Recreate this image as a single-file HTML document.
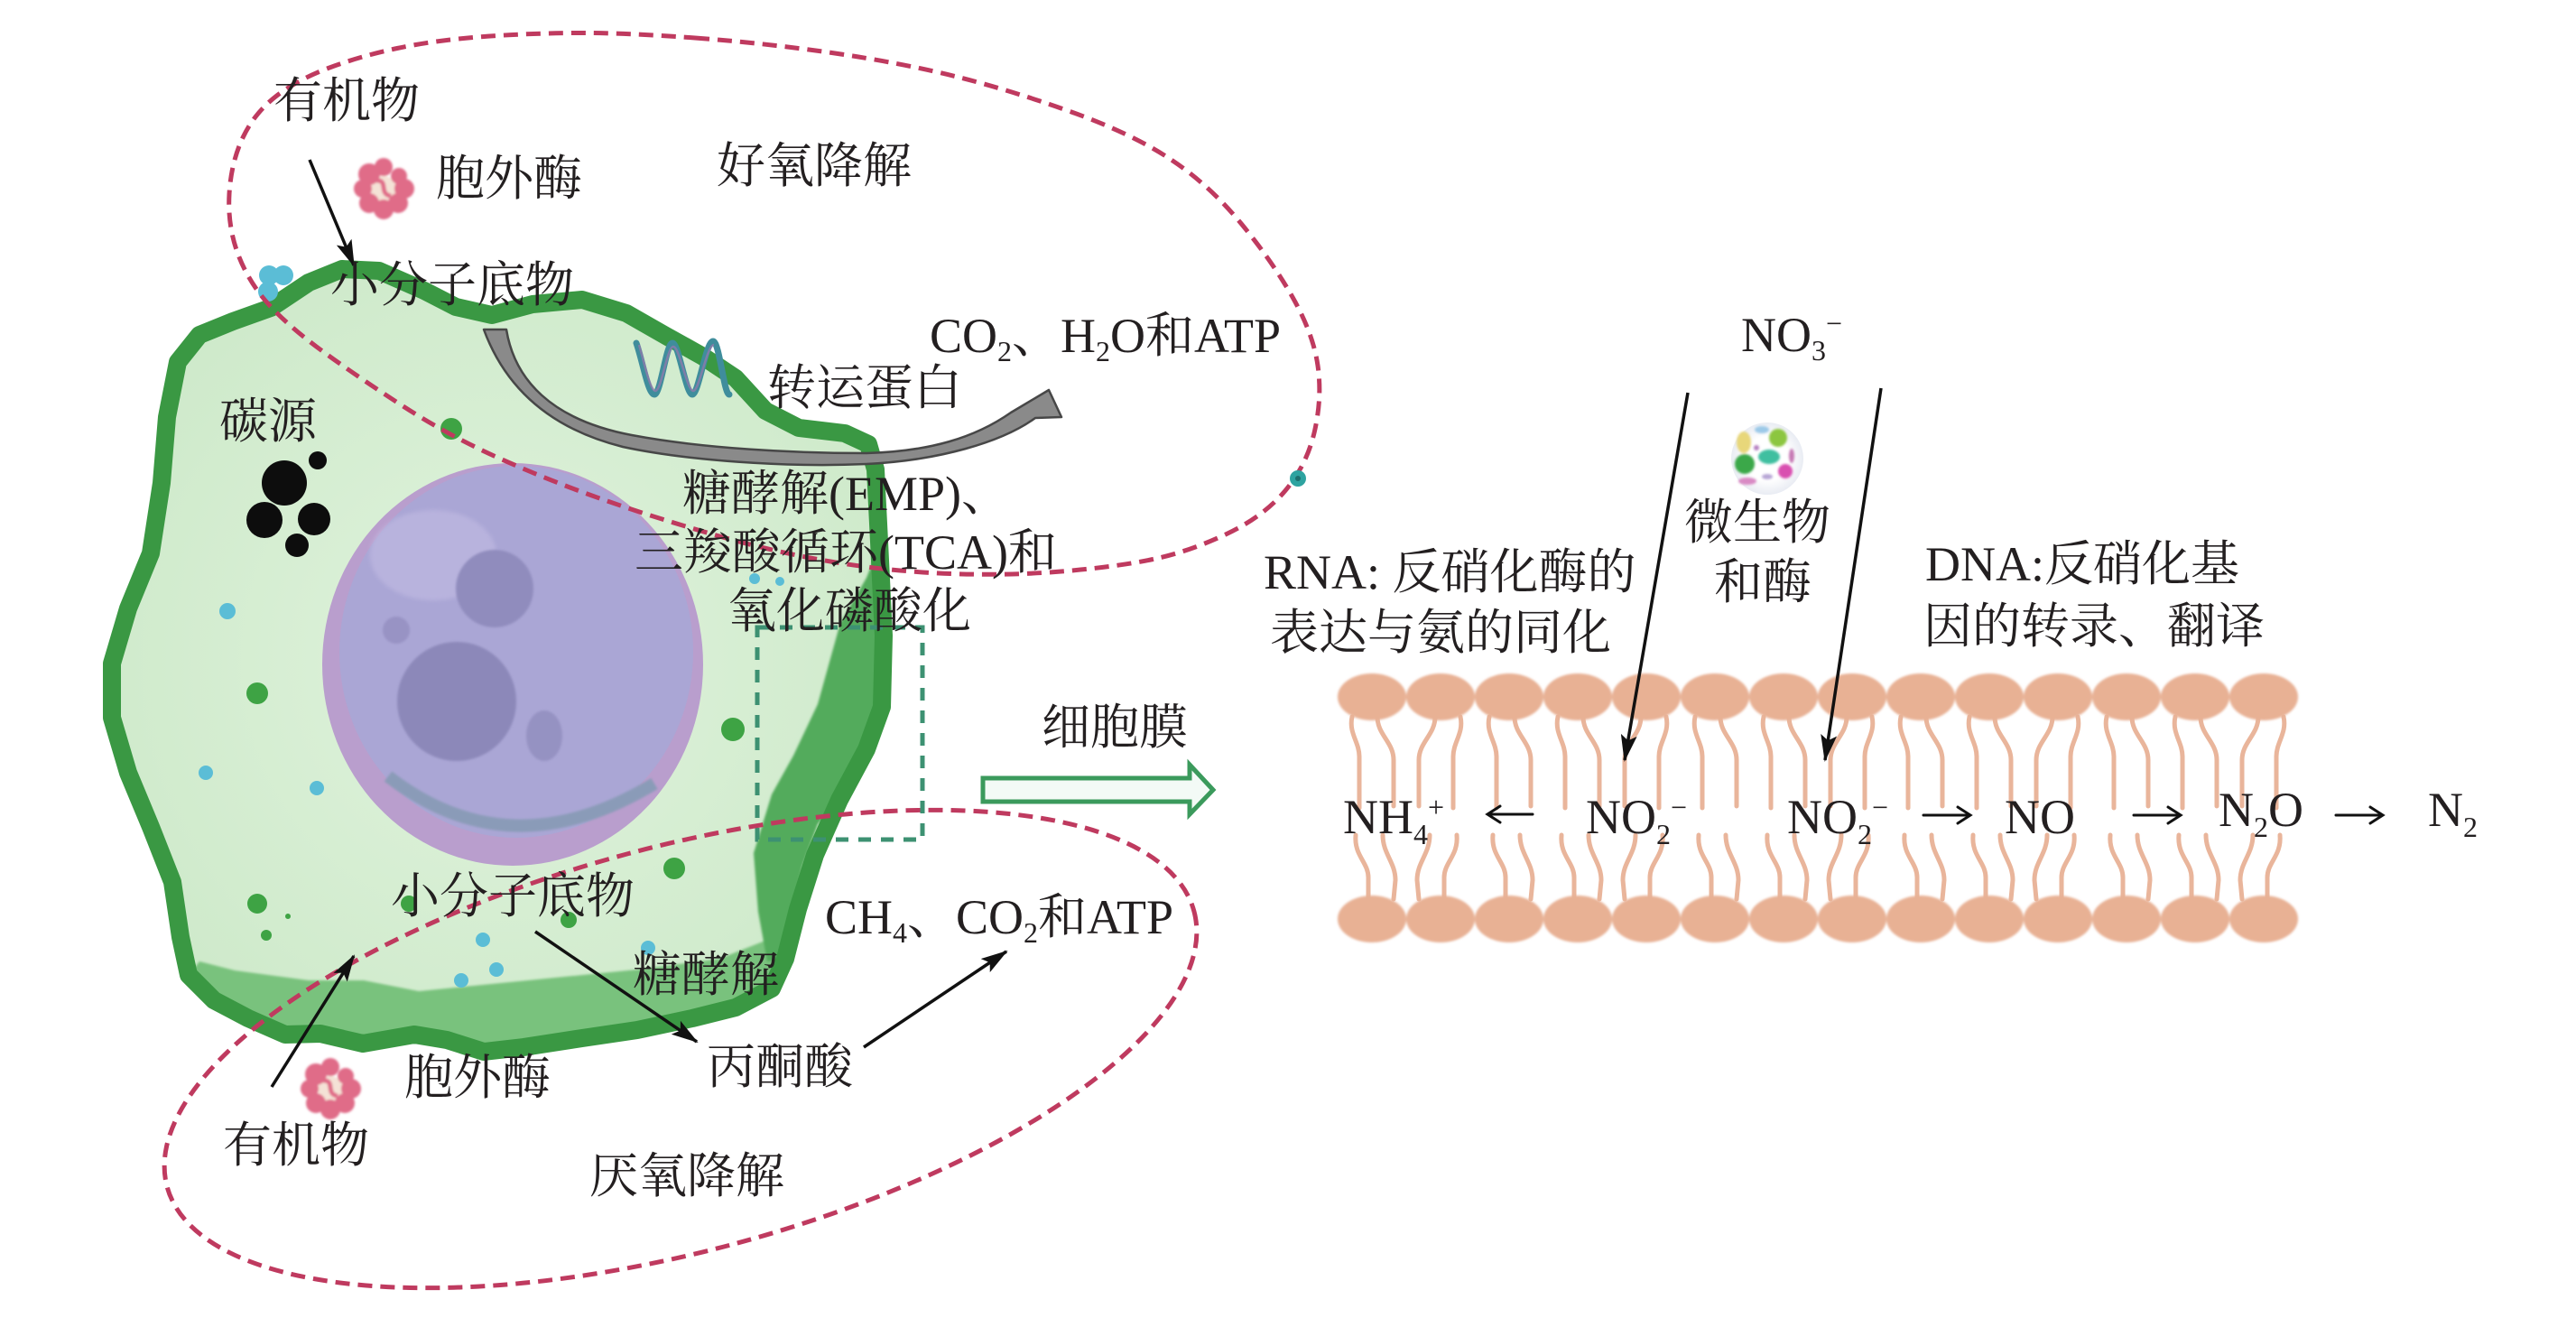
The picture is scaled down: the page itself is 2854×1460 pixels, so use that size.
<!DOCTYPE html>
<html>
<head>
<meta charset="utf-8">
<style>
html,body{margin:0;padding:0;background:#fff;width:2854px;height:1460px;overflow:hidden;}
svg{display:block;}
.t{font-family:"Liberation Serif","Noto Serif CJK SC","Noto Serif CJK JP",serif;font-size:54px;fill:#231f20;}
</style>
</head>
<body>
<svg width="2854" height="1460" viewBox="0 0 2854 1460" xmlns="http://www.w3.org/2000/svg">
<defs>
  <marker id="ah" viewBox="0 0 30 18" refX="28" refY="9" markerWidth="30" markerHeight="18" orient="auto" markerUnits="userSpaceOnUse">
    <path d="M0,0 L30,9 L0,18 L6,9 Z" fill="#111"/>
  </marker>
  <filter id="soft" x="-20%" y="-20%" width="140%" height="140%"><feGaussianBlur stdDeviation="2.5"/></filter>
  <filter id="soft1" x="-20%" y="-20%" width="140%" height="140%"><feGaussianBlur stdDeviation="1.2"/></filter>
  <radialGradient id="cellg" cx="50%" cy="50%" r="60%">
    <stop offset="0" stop-color="#e0f3dd"/>
    <stop offset="1" stop-color="#cde9c9"/>
  </radialGradient>
  <radialGradient id="micg" cx="50%" cy="50%" r="50%">
    <stop offset="0.6" stop-color="#ffffff"/>
    <stop offset="1" stop-color="#e9ecf3"/>
  </radialGradient>
  <g id="tails" fill="none" stroke="#e9b59b" stroke-width="5" stroke-linecap="round">
    <path d="M-22,794 C-26,812 -14,822 -14,838 L-14,895"/>
    <path d="M6,794 C6,814 24,822 24,842 L24,893"/>
    <path d="M-18,925 C-20,948 -4,955 -4,972 L-4,996"/>
    <path d="M12,925 C12,946 26,955 26,975 L24,996"/>
  </g>
  <g id="enz">
    <circle cx="0" cy="0" r="14" fill="#f4e2d6"/>
    <g fill="#e06c88">
      <circle cx="23" cy="0" r="11"/>
      <circle cx="16" cy="16" r="11"/>
      <circle cx="0" cy="23" r="11"/>
      <circle cx="-16" cy="16" r="11"/>
      <circle cx="-23" cy="0" r="10"/>
      <circle cx="-16" cy="-16" r="12"/>
      <circle cx="0" cy="-24" r="10"/>
      <circle cx="17" cy="-14" r="9"/>
    </g>
    <path d="M-8,-9 C6,-10 -6,6 8,8" stroke="#e06c88" stroke-width="5" fill="none"/>
  </g>
</defs>

<!-- ===== CELL ===== -->
<path d="M300,341 L342,313 L379,298 L420,300 L470,322 L505,340 L545,349 L590,337 L645,332 L694,347 L736,371 L779,395 L815,419 L848,455 L885,474 L936,480 L962,492 L970,520 L974,600 L979,704 L977,783 L960,830 L930,886 L903,947 L884,1007 L870,1062 L855,1095 L815,1116 L767,1128 L706,1141 L645,1150 L580,1160 L536,1165 L495,1152 L459,1146 L402,1156 L355,1145 L316,1146 L275,1128 L237,1108 L209,1080 L200,1038 L191,977 L167,916 L142,856 L124,795 L124,735 L142,674 L167,613 L179,535 L185,462 L197,401 L221,371 L258,356 Z" fill="url(#cellg)"/>
<path d="M209,1080 L237,1108 L275,1128 L316,1146 L355,1145 L402,1156 L459,1146 L495,1152 L536,1165 L580,1160 L645,1150 L706,1141 L767,1128 L815,1116 L855,1095 L858,1038 L797,1062 L706,1074 L585,1086 L464,1098 L403,1086 L342,1086 L260,1075 L221,1065 Z" fill="#79c27d" filter="url(#soft1)"/>
<path d="M972,610 L979,704 L977,783 L960,830 L934,880 L906,913 L889,960 L878,1010 L868,1062 L850,1065 L840,1010 L835,945 L855,880 L879,837 L906,780 L931,690 L960,640 Z" fill="#52ab5c" filter="url(#soft1)"/>
<path d="M300,341 L342,313 L379,298 L420,300 L470,322 L505,340 L545,349 L590,337 L645,332 L694,347 L736,371 L779,395 L815,419 L848,455 L885,474 L936,480 L962,492 L970,520 L974,600 L979,704 L977,783 L960,830 L930,886 L903,947 L884,1007 L870,1062 L855,1095 L815,1116 L767,1128 L706,1141 L645,1150 L580,1160 L536,1165 L495,1152 L459,1146 L402,1156 L355,1145 L316,1146 L275,1128 L237,1108 L209,1080 L200,1038 L191,977 L167,916 L142,856 L124,795 L124,735 L142,674 L167,613 L179,535 L185,462 L197,401 L221,371 L258,356 Z" fill="none" stroke="#3a9843" stroke-width="20" stroke-linejoin="round"/>

<!-- nucleus -->
<ellipse cx="568" cy="736" rx="211" ry="223" fill="#b99ecd"/>
<ellipse cx="572" cy="722" rx="196" ry="206" fill="#aaa6d5"/>
<path d="M430,860 Q565,965 725,868" stroke="#8a9bb8" stroke-width="14" fill="none" filter="url(#soft1)"/>
<ellipse cx="480" cy="615" rx="70" ry="50" fill="#c4bee4" opacity="0.55" filter="url(#soft)"/>
<g filter="url(#soft1)">
  <circle cx="506" cy="777" r="66" fill="#8c88b9"/>
  <circle cx="548" cy="652" r="43" fill="#908cbd"/>
  <circle cx="439" cy="698" r="15" fill="#9893c4"/>
  <ellipse cx="603" cy="815" rx="20" ry="28" fill="#9592c2"/>
</g>

<g fill="#0d0d0d">
  <circle cx="315" cy="535" r="25"/>
  <circle cx="352" cy="510" r="10"/>
  <circle cx="293" cy="576" r="20"/>
  <circle cx="348" cy="575" r="18"/>
  <circle cx="329" cy="604" r="13"/>
</g>
<g fill="#3ea344">
  <circle cx="500" cy="475" r="12"/>
  <circle cx="285" cy="768" r="12"/>
  <circle cx="812" cy="808" r="13"/>
  <circle cx="747" cy="962" r="12"/>
  <circle cx="285" cy="1001" r="11"/>
  <circle cx="295" cy="1036" r="6"/>
  <circle cx="319" cy="1015" r="3"/>
  <circle cx="453" cy="1001" r="9"/>
  <circle cx="630" cy="1019" r="9"/>
</g>
<g fill="#5bbdd6">
  <circle cx="252" cy="677" r="9"/>
  <circle cx="228" cy="856" r="8"/>
  <circle cx="351" cy="873" r="8"/>
  <circle cx="535" cy="1041" r="8"/>
  <circle cx="550" cy="1074" r="8"/>
  <circle cx="511" cy="1086" r="8"/>
  <circle cx="718" cy="1050" r="8"/>
  <circle cx="836" cy="641" r="6"/>
  <circle cx="864" cy="644" r="5"/>
  <circle cx="298" cy="305" r="11"/>
  <circle cx="314" cy="305" r="11"/>
  <circle cx="297" cy="323" r="11"/>
</g>

<path d="M705,380 C712,400 718,437 725,437 C732,437 738,380 745,380 C752,380 760,437 767,437 C774,437 782,378 790,378 C797,378 802,437 808,437" fill="none" stroke="#3f8d9c" stroke-width="7" stroke-linecap="round"/>
<path d="M708,382 C714,402 720,432 726,433 C733,433 739,384 746,384 C753,384 761,433 768,433 C775,433 783,382 791,382" fill="none" stroke="#8e7aab" stroke-width="2.5" opacity="0.8"/>

<path d="M561,365 C570,420 610,465 700,482 C780,497 880,502 960,502 C1030,500 1080,485 1120,457 L1162,432 L1176,462 L1147,463 C1110,490 1040,510 960,514 C870,518 760,510 690,495 C610,475 560,430 536,365 Z" fill="#8a8a8a" stroke="#474747" stroke-width="2.5" stroke-linejoin="round"/>

<use href="#enz" transform="translate(425,209)" filter="url(#soft1)"/>
<use href="#enz" transform="translate(366,1206)" filter="url(#soft1)"/>

<rect x="839" y="695" width="183" height="235" fill="none" stroke="#3d9172" stroke-width="5" stroke-dasharray="14 11"/>

<path d="M1089,862 L1318,862 L1318,847 L1344,875 L1318,902 L1318,888 L1089,888 Z" fill="#f3faf6" stroke="#3b9a5c" stroke-width="5" stroke-linejoin="miter"/>

<path d="M770,42 Q850,48 925,59 Q1000,70 1060,85 Q1120,100 1187,124 Q1254,148 1297,176.5 Q1340,205 1375,247.5 Q1410,290 1432.5,330 Q1455,370 1460,405 Q1465,440 1456.5,477.5 Q1448,515 1424,543.5 Q1400,572 1360,591 Q1320,610 1282,618.5 Q1244,627 1182,632.5 Q1120,638 1053,635.5 Q986,633 923,622.5 Q860,612 793.5,593 Q727,574 668.5,553.5 Q610,533 554,508 Q498,483 449,451.5 Q400,420 360,391 Q320,362 297.5,337 Q275,312 263.5,281 Q252,250 254,215 Q256,180 269,152.5 Q282,125 306,106.5 Q330,88 365,75 Q400,62 440,53.5 Q480,45 530,41 Q580,37 635,36.5 Q690,36 770,42 Z" fill="none" stroke="#bf3a5f" stroke-width="5" stroke-dasharray="16 9"/>
<ellipse cx="754" cy="1162" rx="589" ry="224" transform="rotate(-15 754 1162)" fill="none" stroke="#bf3a5f" stroke-width="5" stroke-dasharray="16 9"/>
<circle cx="1438" cy="530" r="9" fill="#2ea3a0"/>
<circle cx="1438" cy="530" r="3" fill="#1d6f6e"/>

<!-- ===== MEMBRANE ===== -->
<g>
  <use href="#tails" transform="translate(1520,0)"/>
  <use href="#tails" transform="translate(1596,0) scale(-1,1)"/>
  <use href="#tails" transform="translate(1672,0)"/>
  <use href="#tails" transform="translate(1748,0)"/>
  <use href="#tails" transform="translate(1824,0) scale(-1,1)"/>
  <use href="#tails" transform="translate(1900,0)"/>
  <use href="#tails" transform="translate(1976,0)"/>
  <use href="#tails" transform="translate(2052,0) scale(-1,1)"/>
  <use href="#tails" transform="translate(2128,0)"/>
  <use href="#tails" transform="translate(2204,0)"/>
  <use href="#tails" transform="translate(2280,0) scale(-1,1)"/>
  <use href="#tails" transform="translate(2356,0)"/>
  <use href="#tails" transform="translate(2432,0)"/>
  <use href="#tails" transform="translate(2508,0) scale(-1,1)"/>
</g>
<g fill="#e8b194" filter="url(#soft1)">
  <ellipse cx="1520" cy="772" rx="38" ry="26"/>
  <ellipse cx="1596" cy="772" rx="38" ry="26"/>
  <ellipse cx="1672" cy="772" rx="38" ry="26"/>
  <ellipse cx="1748" cy="772" rx="38" ry="26"/>
  <ellipse cx="1824" cy="772" rx="38" ry="26"/>
  <ellipse cx="1900" cy="772" rx="38" ry="26"/>
  <ellipse cx="1976" cy="772" rx="38" ry="26"/>
  <ellipse cx="2052" cy="772" rx="38" ry="26"/>
  <ellipse cx="2128" cy="772" rx="38" ry="26"/>
  <ellipse cx="2204" cy="772" rx="38" ry="26"/>
  <ellipse cx="2280" cy="772" rx="38" ry="26"/>
  <ellipse cx="2356" cy="772" rx="38" ry="26"/>
  <ellipse cx="2432" cy="772" rx="38" ry="26"/>
  <ellipse cx="2508" cy="772" rx="38" ry="26"/>
  <ellipse cx="1520" cy="1018" rx="38" ry="26"/>
  <ellipse cx="1596" cy="1018" rx="38" ry="26"/>
  <ellipse cx="1672" cy="1018" rx="38" ry="26"/>
  <ellipse cx="1748" cy="1018" rx="38" ry="26"/>
  <ellipse cx="1824" cy="1018" rx="38" ry="26"/>
  <ellipse cx="1900" cy="1018" rx="38" ry="26"/>
  <ellipse cx="1976" cy="1018" rx="38" ry="26"/>
  <ellipse cx="2052" cy="1018" rx="38" ry="26"/>
  <ellipse cx="2128" cy="1018" rx="38" ry="26"/>
  <ellipse cx="2204" cy="1018" rx="38" ry="26"/>
  <ellipse cx="2280" cy="1018" rx="38" ry="26"/>
  <ellipse cx="2356" cy="1018" rx="38" ry="26"/>
  <ellipse cx="2432" cy="1018" rx="38" ry="26"/>
  <ellipse cx="2508" cy="1018" rx="38" ry="26"/>
</g>

<circle cx="1958" cy="508" r="40" fill="url(#micg)"/>
<g filter="url(#soft1)">
  <ellipse cx="1952" cy="476" rx="8" ry="4" fill="#9cc9e8"/>
  <ellipse cx="1932" cy="490" rx="8" ry="12" fill="#e8d77a"/>
  <circle cx="1970" cy="485" r="10" fill="#8cc63f"/>
  <circle cx="1946" cy="496" r="3" fill="#b580c0"/>
  <ellipse cx="1960" cy="506" rx="12" ry="8" fill="#3fbfa0"/>
  <circle cx="1933" cy="514" r="11" fill="#3aa84a"/>
  <ellipse cx="1985" cy="505" rx="3" ry="8" fill="#c77ab5"/>
  <circle cx="1978" cy="522" r="8" fill="#d94fb0"/>
  <ellipse cx="1936" cy="533" rx="10" ry="4" fill="#d98ac4"/>
  <ellipse cx="1958" cy="528" rx="6" ry="3" fill="#b7a6d6"/>
</g>

<!-- ===== ARROWS ===== -->
<g stroke="#111" stroke-width="3.5" fill="none">
  <line x1="343" y1="177" x2="392" y2="294" marker-end="url(#ah)"/>
  <line x1="301" y1="1204" x2="392" y2="1059" marker-end="url(#ah)"/>
  <line x1="593" y1="1032" x2="772" y2="1154" marker-end="url(#ah)"/>
  <line x1="957" y1="1160" x2="1115" y2="1054" marker-end="url(#ah)"/>
  <line x1="1870" y1="435" x2="1800" y2="842" marker-end="url(#ah)"/>
  <line x1="2084" y1="430" x2="2022" y2="842" marker-end="url(#ah)"/>
</g>
<g stroke="#111" stroke-width="3" fill="none" stroke-linecap="round">
  <path d="M1698,902 L1649,902 M1662,893 L1648,902 L1662,911"/>
  <path d="M2131,903 L2182,903 M2169,894 L2183,903 L2169,912"/>
  <path d="M2364,903 L2415,903 M2402,894 L2416,903 L2402,912"/>
  <path d="M2588,903 L2639,903 M2626,894 L2640,903 L2626,912"/>
</g>

<!-- ===== TEXT ===== -->
<g class="t">
  <text x="303" y="130">有机物</text>
  <text x="483" y="216">胞外酶</text>
  <text x="794" y="202">好氧降解</text>
  <text x="366" y="334">小分子底物</text>
  <text x="1030" y="390">CO<tspan font-size="32" dy="10">2</tspan><tspan dy="-10">、H</tspan><tspan font-size="32" dy="10">2</tspan><tspan dy="-10">O和ATP</tspan></text>
  <text x="850" y="448">转运蛋白</text>
  <text x="243" y="485">碳源</text>
  <text x="756" y="565">糖酵解(EMP)、</text>
  <text x="703" y="630">三羧酸循环(TCA)和</text>
  <text x="806" y="695">氧化磷酸化</text>
  <text x="1400" y="652">RNA: 反硝化酶的</text>
  <text x="1407" y="719">表达与氨的同化</text>
  <text x="1929" y="389">NO<tspan font-size="32" dy="10">3</tspan><tspan font-size="32" dy="-30">−</tspan></text>
  <text x="1866" y="597">微生物</text>
  <text x="1899" y="663">和酶</text>
  <text x="2133" y="643">DNA:反硝化基</text>
  <text x="2131" y="712">因的转录、翻译</text>
  <text x="1154" y="824">细胞膜</text>
  <text x="433" y="1011">小分子底物</text>
  <text x="914" y="1034">CH<tspan font-size="32" dy="10">4</tspan><tspan dy="-10">、CO</tspan><tspan font-size="32" dy="10">2</tspan><tspan dy="-10">和ATP</tspan></text>
  <text x="701" y="1098">糖酵解</text>
  <text x="783" y="1200">丙酮酸</text>
  <text x="448" y="1212">胞外酶</text>
  <text x="247" y="1287">有机物</text>
  <text x="653" y="1321">厌氧降解</text>

  <text x="1488" y="923">NH<tspan font-size="32" dy="12">4</tspan><tspan font-size="32" dy="-30">+</tspan></text>
  <text x="1757" y="923">NO<tspan font-size="32" dy="12">2</tspan><tspan font-size="32" dy="-30">−</tspan></text>
  <text x="1980" y="923">NO<tspan font-size="32" dy="12">2</tspan><tspan font-size="32" dy="-30">−</tspan></text>
  <text x="2221" y="923">NO</text>
  <text x="2458" y="915">N<tspan font-size="32" dy="12">2</tspan><tspan dy="-12">O</tspan></text>
  <text x="2690" y="915">N<tspan font-size="32" dy="12">2</tspan></text>
</g>
</svg>
</body>
</html>
